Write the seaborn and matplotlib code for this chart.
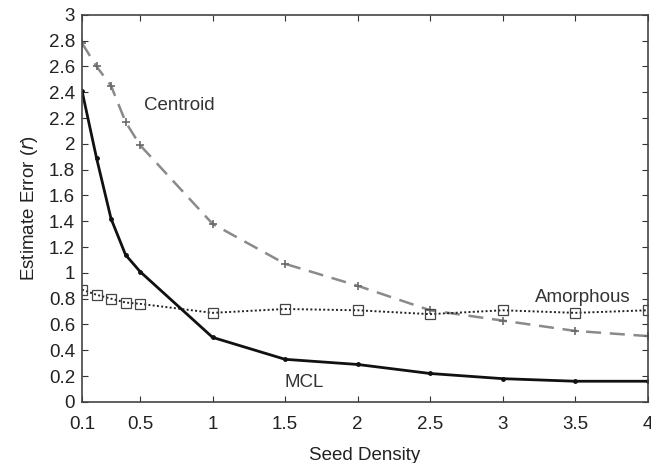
import matplotlib
matplotlib.use("Agg")
import matplotlib.pyplot as plt
import seaborn as sns
import pandas as pd

x_vals = [0.1, 0.2, 0.3, 0.4, 0.5, 1, 1.5, 2, 2.5, 3, 3.5, 4]
mcl = [2.41, 1.89, 1.42, 1.14, 1.01, 0.50, 0.33, 0.29, 0.22, 0.18, 0.16, 0.16]
centroid = [2.78, 2.60, 2.45, 2.17, 1.99, 1.38, 1.07, 0.90, 0.71, 0.63, 0.55, 0.51]
amorphous = [0.87, 0.83, 0.80, 0.77, 0.76, 0.69, 0.72, 0.71, 0.68, 0.71, 0.69, 0.71]
x_ticks = [0.1, 0.5, 1, 1.5, 2, 2.5, 3, 3.5, 4]
x_ticklabels = ["0.1", "0.5", "1", "1.5", "2", "2.5", "3", "3.5", "4"]
y_ticks = [0, 0.2, 0.4, 0.6, 0.8, 1, 1.2, 1.4, 1.6, 1.8, 2, 2.2, 2.4, 2.6, 2.8, 3]
y_ticklabels = ["0", "0.2", "0.4", "0.6", "0.8", "1", "1.2", "1.4", "1.6", "1.8",
                "2", "2.2", "2.4", "2.6", "2.8", "3"]

sns.set_style("ticks")
plt.rcParams['font.family'] = ['Liberation Sans', 'DejaVu Sans']

fig = plt.figure(figsize=(6.51, 4.63), dpi=100)
ax = fig.add_axes([0.126, 0.132, 0.869, 0.836])

df = pd.DataFrame({"x": x_vals, "MCL": mcl, "Centroid": centroid, "Amorphous": amorphous})

sns.lineplot(data=df, x="x", y="Centroid", ax=ax, color="#8a8a8a", lw=1.8,
             linestyle=(0, (6, 3.5)), marker="+", markersize=6, markeredgewidth=1.2,
             markeredgecolor="#6a6a6a")
sns.lineplot(data=df, x="x", y="Amorphous", ax=ax, color="#222222", lw=1.4,
             linestyle=(0, (1, 1.2)), marker="s", markersize=6.5, markerfacecolor="none",
             markeredgecolor="#444444", markeredgewidth=0.9)
sns.lineplot(data=df, x="x", y="MCL", ax=ax, color="#111111", lw=2.0,
             marker="o", markersize=3.5, markeredgewidth=0)

fs = 13.5
ax.text(0.53, 2.30, "Centroid", fontsize=fs, ha="left", va="center", color="#333333")
ax.text(3.55, 0.81, "Amorphous", fontsize=fs, ha="center", va="center", color="#333333")
ax.text(1.63, 0.15, "MCL", fontsize=fs, ha="center", va="center", color="#333333")

ax.set_xlim(0.1, 4)
ax.set_ylim(0, 3)
ax.set_xticks(x_ticks)
ax.set_xticklabels(x_ticklabels)
ax.set_yticks(y_ticks)
ax.set_yticklabels(y_ticklabels)
ax.tick_params(direction="in", top=True, right=True, labelsize=fs, length=4,
               colors="#333333", labelcolor="#222222")
ax.tick_params(axis="x", pad=10)
ax.tick_params(axis="y", pad=5)
for s in ax.spines.values():
    s.set_visible(True)
    s.set_color("#444444")
    s.set_linewidth(1.2)
ax.set_xlabel("Seed Density", fontsize=fs, color="#222222", labelpad=10)
ax.set_ylabel("Estimate Error ($\\it{r}$)", fontsize=fs, color="#222222", labelpad=6)

fig.savefig("out.png", dpi=100, facecolor="white")
